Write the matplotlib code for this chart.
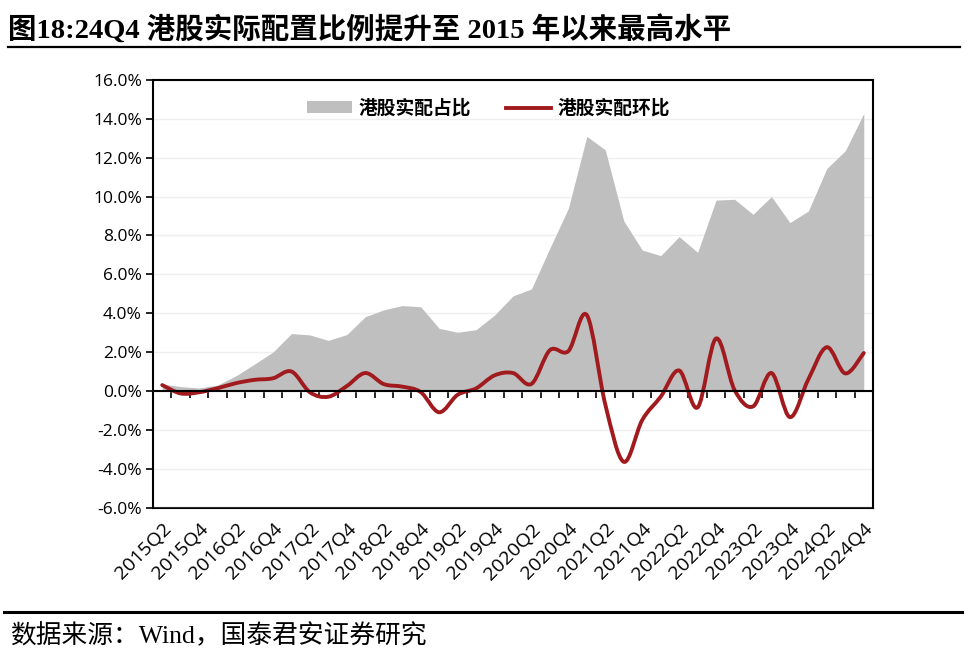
import numpy as np
import matplotlib
matplotlib.use('Agg')
import matplotlib.pyplot as plt
from matplotlib.path import Path
from matplotlib.patches import PathPatch, Patch
from matplotlib.lines import Line2D
from matplotlib.ticker import FuncFormatter, FixedLocator

plt.rcParams['font.family'] = ['Open Sans', 'Noto Sans CJK SC', 'DejaVu Sans']

# 2015Q2 ... 2024Q4
quarters = ['%dQ%d' % (y, q) for y in range(2015, 2025) for q in range(1, 5)][1:]

# 港股实配占比 (%)
share = [0.35, 0.22, 0.15, 0.3, 0.78, 1.38, 2.0, 2.95, 2.88, 2.6,
         2.9, 3.82, 4.17, 4.39, 4.33, 3.22, 3.02, 3.15, 3.9, 4.89,
         5.25, 7.35, 9.4, 13.1, 12.4, 8.75, 7.25, 6.96, 7.94, 7.13,
         9.82, 9.86, 9.09, 10.0, 8.66, 9.26, 11.45, 12.36, 14.28]

# 港股实配环比 (%)
qoq = [0.3, -0.13, -0.07, 0.14, 0.4, 0.57, 0.65, 1.0, -0.07, -0.3,
       0.25, 0.92, 0.35, 0.22, -0.06, -1.1, -0.2, 0.13, 0.8, 0.92,
       0.36, 2.1, 2.05, 3.9, -0.7, -3.65, -1.5, -0.3, 1.05, -0.85,
       2.7, 0.05, -0.8, 0.92, -1.35, 0.6, 2.25, 0.9, 1.95]

label_quarters = quarters[::2]

GRAY = '#BFBFBF'
RED = '#A11A1E'


def smooth_path(xs, ys):
    # bezier segments through every point (Excel style smoothed line)
    pts = np.column_stack([xs, ys]).astype(float)
    n = len(pts)
    verts = [pts[0]]
    codes = [Path.MOVETO]
    for i in range(n - 1):
        p0 = pts[max(i - 1, 0)]
        p1 = pts[i]
        p2 = pts[i + 1]
        p3 = pts[min(i + 2, n - 1)]
        c1 = p1 + (p2 - p0) / 6.0
        c2 = p2 - (p3 - p1) / 6.0
        verts += [c1, c2, p2]
        codes += [Path.CURVE4] * 3
    return Path(verts, codes)


fig = plt.figure(figsize=(9.79, 6.53), dpi=100)
ax = fig.add_axes([153 / 979, 1 - 507.5 / 653, 720 / 979, 427.5 / 653])

x = np.arange(len(quarters))
ax.fill_between(x, 0, share, color=GRAY, lw=0, zorder=2)
ax.add_patch(PathPatch(smooth_path(x, qoq), fill=False, edgecolor=RED,
                       lw=2.8, capstyle='round', joinstyle='round', zorder=3))

ax.set_xlim(-0.5, len(quarters) - 0.5)
ax.set_ylim(-6, 16)
ax.set_yticks(np.arange(-6, 17, 2))
ax.yaxis.set_major_formatter(FuncFormatter(lambda v, p: '%.1f%%' % v))
ax.tick_params(axis='y', direction='out', length=5, width=1.2, pad=3,
               labelsize=12.5, colors='black')
ax.grid(axis='y', color='#EFEFEF', lw=1, zorder=0)
ax.set_axisbelow(True)

# category axis sits on the zero line, ticks between categories
ax.spines['bottom'].set_position(('data', 0))
ax.spines['bottom'].set_linewidth(1.5)
ax.spines['bottom'].set_zorder(4)
ax.xaxis.set_major_locator(FixedLocator(np.arange(0.5, len(quarters) - 1, 1)))
ax.tick_params(axis='x', direction='out', length=5, width=1.2,
               labelbottom=False)
for s in ['left', 'top', 'right']:
    ax.spines[s].set_linewidth(1.5)
    ax.spines[s].set_zorder(4)

# labels along the bottom edge of the plot box
sec = ax.secondary_xaxis(0)
sec.set_xticks(x[::2])
sec.set_xticklabels(label_quarters, rotation=45, ha='right', va='top',
                    rotation_mode='anchor', fontsize=14)
sec.tick_params(length=0, pad=9)
sec.spines['bottom'].set_linewidth(1.5)

handles = [Patch(facecolor=GRAY, edgecolor='none', label='港股实配占比'),
           Line2D([0], [0], color=RED, lw=2.8, label='港股实配环比')]
ax.legend(handles=handles, loc='upper center', bbox_to_anchor=(0.466, 0.995),
          ncol=2, frameon=False, handlelength=2.4, handleheight=0.6,
          handletextpad=0.35, columnspacing=1.9,
          prop={'family': ['Noto Sans CJK SC'], 'weight': 'bold', 'size': 13.5})

fig.text(8 / 979, 1 - 30 / 653, '图18:24Q4 港股实际配置比例提升至 2015 年以来最高水平',
         family=['Liberation Serif', 'Noto Sans CJK SC'], weight='bold',
         fontsize=20.5, va='center', ha='left')
fig.add_artist(Line2D([8 / 979, 960 / 979], [1 - 47 / 653] * 2,
                      color='black', lw=1.6, transform=fig.transFigure))
fig.add_artist(Line2D([4 / 979, 962 / 979], [1 - 612 / 653] * 2,
                      color='black', lw=2.2, transform=fig.transFigure))
fig.text(10 / 979, 1 - 636 / 653, '数据来源：Wind，国泰君安证券研究',
         family=['Liberation Serif', 'Noto Sans CJK SC'],
         fontsize=18.5, va='center', ha='left')

fig.savefig('out.png', dpi=100)
